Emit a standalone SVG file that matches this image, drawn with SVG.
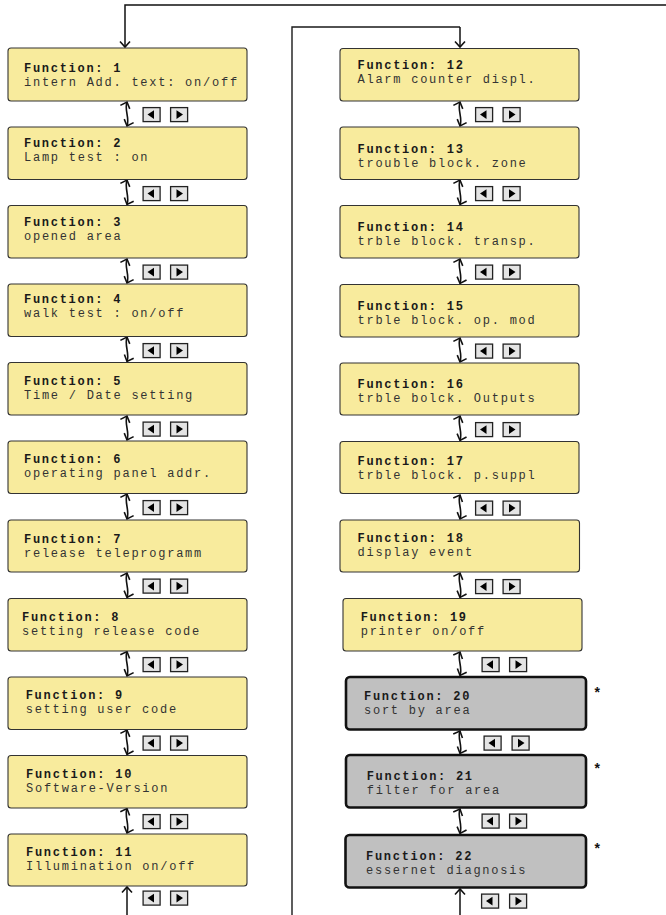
<svg xmlns="http://www.w3.org/2000/svg" xmlns:xlink="http://www.w3.org/1999/xlink" width="666" height="915" viewBox="0 0 666 915">
<style>
.box{fill:#f8eb9d;stroke:#333;stroke-width:1.1}
.gbox{fill:#c0c0c0;stroke:#111;stroke-width:2.6}
.t1{font-family:"Liberation Mono","Courier New",monospace;font-size:12px;font-weight:bold;fill:#1a1a1a;letter-spacing:1.72px}
.t2{font-family:"Liberation Mono","Courier New",monospace;font-size:12px;fill:#333;letter-spacing:1.75px}
.line{fill:none;stroke:#1a1a1a;stroke-width:1.4}
.dbl{fill:none;stroke:#111;stroke-width:1.6;marker-start:url(#ah);marker-end:url(#ah)}
.one{fill:none;stroke:#111;stroke-width:1.5;marker-end:url(#ah)}
.star{font-family:"Liberation Sans",Arial,sans-serif;font-size:14px;font-weight:bold;fill:#111}
.btn{fill:#e4e4e4;stroke:#222;stroke-width:1.3}
.tri{fill:#000}
</style>
<defs>
<marker id="ah" markerUnits="userSpaceOnUse" markerWidth="14" markerHeight="14" refX="0" refY="0" viewBox="-7 -7 14 14" orient="auto-start-reverse">
<path d="M-5.5,-5 L0,0 L-5.5,5" fill="none" stroke="#111" stroke-width="1.6"/>
</marker>
<g id="bl"><rect class="btn" x="0.6" y="0.6" width="17" height="14"/><polygon class="tri" points="5,7.6 11.5,3.3 11.5,11.9"/></g>
<g id="br"><rect class="btn" x="0.6" y="0.6" width="17" height="14"/><polygon class="tri" points="6.5,3.3 13,7.6 6.5,11.9"/></g>
</defs>

<g id="connectors">
<path class="one" d="M666,5 H125 V47"/>
<path class="line" d="M292,915 V27 H460"/>
<path class="one" d="M460,27 V47"/>
<path class="one" d="M127,915 V887"/>
<path class="one" d="M460,915 V889"/>
<!-- left column -->
<path class="dbl" d="M127,102 C124,110 130,118 127,126"/>
<path class="dbl" d="M127,180 C124,188 130,197 127,204.5"/>
<path class="dbl" d="M127,259 C124,267 130,275 127,283"/>
<path class="dbl" d="M127,337 C124,345 130,354 127,361.5"/>
<path class="dbl" d="M127,416 C124,424 130,432 127,440"/>
<path class="dbl" d="M127,494 C124,502 130,511 127,519"/>
<path class="dbl" d="M127,573 C124,581 130,589 127,597.5"/>
<path class="dbl" d="M127,651.5 C124,659 130,668 127,676"/>
<path class="dbl" d="M127,730 C124,738 130,746 127,754.5"/>
<path class="dbl" d="M127,808.5 C124,816 130,825 127,833"/>
<!-- right column -->
<path class="dbl" d="M460,102 C457,110 463,118 460,126"/>
<path class="dbl" d="M460,180 C457,188 463,197 460,204.5"/>
<path class="dbl" d="M460,259 C457,267 463,275 460,283.5"/>
<path class="dbl" d="M460,338 C457,346 463,354 460,362"/>
<path class="dbl" d="M460,416 C457,424 463,432 460,440.5"/>
<path class="dbl" d="M460,495 C457,502 463,511 460,519"/>
<path class="dbl" d="M460,573 C457,581 463,589 460,597.5"/>
<path class="dbl" d="M460,652 C457,659 463,668 460,675.5"/>
<path class="dbl" d="M460,731 C457,738 463,746 460,753.5"/>
<path class="dbl" d="M460,809 C457,816 463,825 460,833.5"/>
</g>

<g id="buttons">
<use xlink:href="#bl" x="142.5" y="107"/><use xlink:href="#br" x="170" y="107"/>
<use xlink:href="#bl" x="142.5" y="186"/><use xlink:href="#br" x="170" y="186"/>
<use xlink:href="#bl" x="142.5" y="264.5"/><use xlink:href="#br" x="170" y="264.5"/>
<use xlink:href="#bl" x="142.5" y="343"/><use xlink:href="#br" x="170" y="343"/>
<use xlink:href="#bl" x="142.5" y="421.5"/><use xlink:href="#br" x="170" y="421.5"/>
<use xlink:href="#bl" x="142.5" y="500"/><use xlink:href="#br" x="170" y="500"/>
<use xlink:href="#bl" x="142.5" y="578.5"/><use xlink:href="#br" x="170" y="578.5"/>
<use xlink:href="#bl" x="142.5" y="657"/><use xlink:href="#br" x="170" y="657"/>
<use xlink:href="#bl" x="142.5" y="735.5"/><use xlink:href="#br" x="170" y="735.5"/>
<use xlink:href="#bl" x="142.5" y="814"/><use xlink:href="#br" x="170" y="814"/>
<use xlink:href="#bl" x="142.5" y="890.5"/><use xlink:href="#br" x="170" y="890.5"/>

<use xlink:href="#bl" x="475" y="107"/><use xlink:href="#br" x="502.5" y="107"/>
<use xlink:href="#bl" x="475" y="186"/><use xlink:href="#br" x="502.5" y="186"/>
<use xlink:href="#bl" x="475" y="264.5"/><use xlink:href="#br" x="502.5" y="264.5"/>
<use xlink:href="#bl" x="475" y="343.5"/><use xlink:href="#br" x="502.5" y="343.5"/>
<use xlink:href="#bl" x="475" y="422"/><use xlink:href="#br" x="502.5" y="422"/>
<use xlink:href="#bl" x="475" y="500.5"/><use xlink:href="#br" x="502.5" y="500.5"/>
<use xlink:href="#bl" x="475" y="579"/><use xlink:href="#br" x="502.5" y="579"/>
<use xlink:href="#bl" x="481.5" y="657"/><use xlink:href="#br" x="509" y="657"/>
<use xlink:href="#bl" x="483.5" y="735.5"/><use xlink:href="#br" x="511.5" y="735.5"/>
<use xlink:href="#bl" x="481.5" y="813.5"/><use xlink:href="#br" x="509" y="813.5"/>
<use xlink:href="#bl" x="481" y="893.5"/><use xlink:href="#br" x="509" y="893.5"/>
</g>

<g id="f1"><rect class="box" x="8" y="48" width="239" height="53" rx="3"/><text class="t1" x="24" y="72">Function: 1</text><text class="t2" x="24" y="86">intern Add. text: on/off</text></g>
<g id="f2"><rect class="box" x="8" y="127" width="239" height="52.5" rx="3"/><text class="t1" x="24" y="147.3">Function: 2</text><text class="t2" x="24" y="161.3">Lamp test : on</text></g>
<g id="f3"><rect class="box" x="8" y="205.5" width="239" height="52.5" rx="3"/><text class="t1" x="24" y="225.5">Function: 3</text><text class="t2" x="24" y="239.5">opened area</text></g>
<g id="f4"><rect class="box" x="8" y="284" width="239" height="52.5" rx="3"/><text class="t1" x="24" y="303.3">Function: 4</text><text class="t2" x="24" y="317.3">walk test : on/off</text></g>
<g id="f5"><rect class="box" x="8" y="362.5" width="239" height="52.5" rx="3"/><text class="t1" x="24" y="385">Function: 5</text><text class="t2" x="24" y="399">Time / Date setting</text></g>
<g id="f6"><rect class="box" x="8" y="441" width="239" height="52.5" rx="3"/><text class="t1" x="24" y="462.7">Function: 6</text><text class="t2" x="24" y="476.7">operating panel addr.</text></g>
<g id="f7"><rect class="box" x="8" y="520" width="239" height="52" rx="3"/><text class="t1" x="24" y="542.7">Function: 7</text><text class="t2" x="24" y="556.7">release teleprogramm</text></g>
<g id="f8"><rect class="box" x="8" y="598.5" width="239" height="52.5" rx="3"/><text class="t1" x="22" y="621">Function: 8</text><text class="t2" x="22" y="635">setting release code</text></g>
<g id="f9"><rect class="box" x="8" y="677" width="239" height="52.5" rx="3"/><text class="t1" x="25.7" y="699.3">Function: 9</text><text class="t2" x="25.7" y="713.3">setting user code</text></g>
<g id="f10"><rect class="box" x="8" y="755.5" width="239" height="52.5" rx="3"/><text class="t1" x="26" y="777.7">Function: 10</text><text class="t2" x="26" y="791.7">Software-Version</text></g>
<g id="f11"><rect class="box" x="8" y="834" width="239" height="52" rx="3"/><text class="t1" x="26" y="855.7">Function: 11</text><text class="t2" x="26" y="869.7">Illumination on/off</text></g>

<g id="f12"><rect class="box" x="340" y="48.5" width="239" height="52.5" rx="3"/><text class="t1" x="357.5" y="69.3">Function: 12</text><text class="t2" x="357.5" y="83.3">Alarm counter displ.</text></g>
<g id="f13"><rect class="box" x="340" y="127" width="239" height="52.5" rx="3"/><text class="t1" x="357.5" y="153.3">Function: 13</text><text class="t2" x="357.5" y="167.3">trouble block. zone</text></g>
<g id="f14"><rect class="box" x="340" y="205.5" width="239" height="52.5" rx="3"/><text class="t1" x="357.5" y="231">Function: 14</text><text class="t2" x="357.5" y="245">trble block. transp.</text></g>
<g id="f15"><rect class="box" x="340" y="284.5" width="239" height="52.5" rx="3"/><text class="t1" x="357.5" y="310">Function: 15</text><text class="t2" x="357.5" y="324">trble block. op. mod</text></g>
<g id="f16"><rect class="box" x="340" y="363" width="239" height="52" rx="3"/><text class="t1" x="357.5" y="388.3">Function: 16</text><text class="t2" x="357.5" y="402.3">trble bolck. Outputs</text></g>
<g id="f17"><rect class="box" x="340" y="441.5" width="239" height="52" rx="3"/><text class="t1" x="357.5" y="465">Function: 17</text><text class="t2" x="357.5" y="479">trble block. p.suppl</text></g>
<g id="f18"><rect class="box" x="340" y="520" width="239.5" height="52" rx="3"/><text class="t1" x="357.5" y="541.7">Function: 18</text><text class="t2" x="357.5" y="555.7">display event</text></g>
<g id="f19"><rect class="box" x="343" y="598.5" width="239" height="52.5" rx="3"/><text class="t1" x="360.7" y="620.7">Function: 19</text><text class="t2" x="360.7" y="634.7">printer on/off</text></g>
<g id="f20"><rect class="gbox" x="346" y="677" width="240" height="52.5" rx="4"/><text class="t1" x="364" y="700">Function: 20</text><text class="t2" x="364" y="714">sort by area</text><text class="star" x="594.5" y="697">*</text></g>
<g id="f21"><rect class="gbox" x="346" y="755" width="240" height="52.5" rx="4"/><text class="t1" x="366.7" y="780">Function: 21</text><text class="t2" x="366.7" y="794">filter for area</text><text class="star" x="594.5" y="773">*</text></g>
<g id="f22"><rect class="gbox" x="345.5" y="835" width="240.5" height="52.5" rx="4"/><text class="t1" x="366" y="860">Function: 22</text><text class="t2" x="366" y="874">essernet diagnosis</text><text class="star" x="594.5" y="853">*</text></g>
</svg>
